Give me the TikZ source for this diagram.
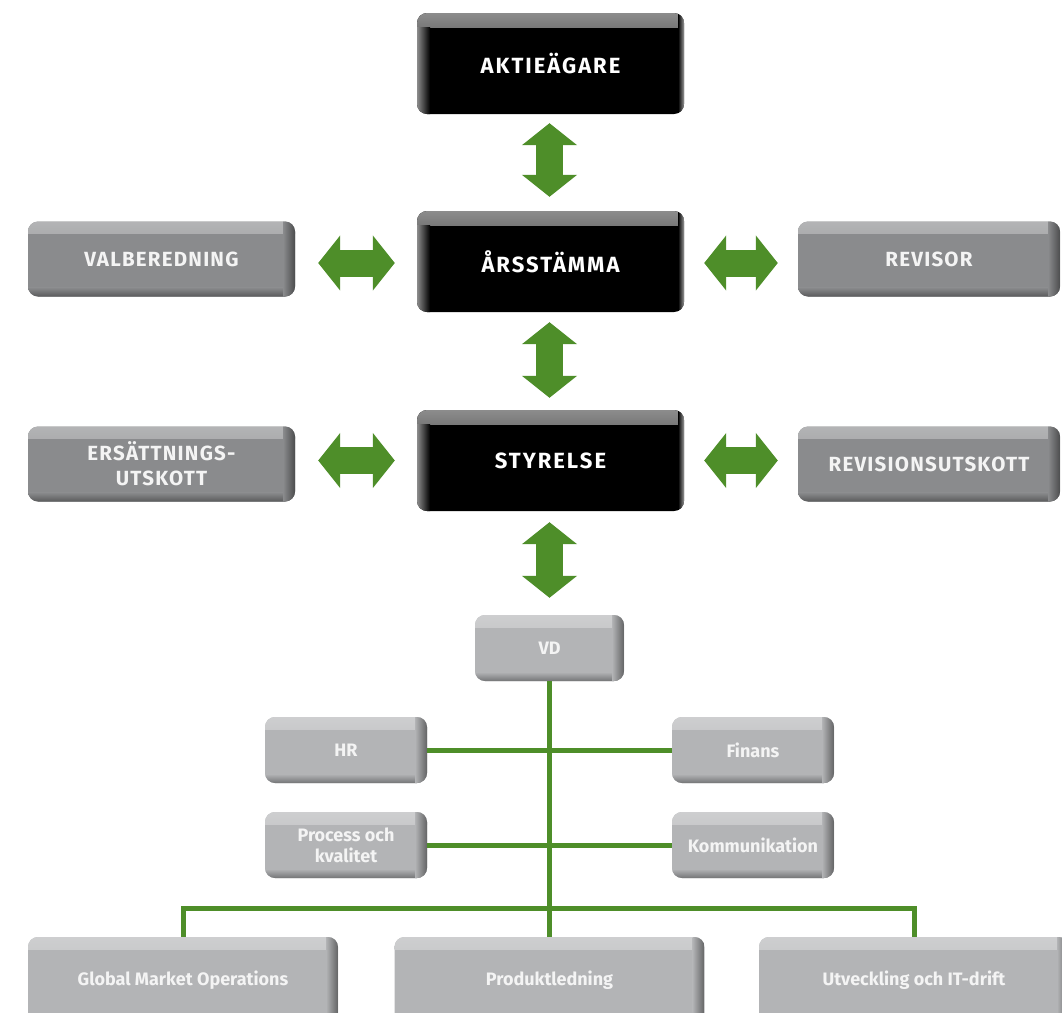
\documentclass[tikz,border=0pt]{standalone}
\usepackage{fontspec}
\setmainfont{Fira Sans}
\newfontfamily\capfont{Fira Sans}[LetterSpace=6]
\newfontfamily\bigcapfont{Fira Sans}[LetterSpace=9]
\usetikzlibrary{arrows.meta}
\definecolor{grn}{HTML}{4E8E29}
\definecolor{dgray}{HTML}{8A8B8D}
\definecolor{lgray}{HTML}{B3B4B6}
\definecolor{txtw}{HTML}{F4F4F4}
\tikzset{
  box/.style={rounded corners=10pt, inner sep=0pt, align=center},
  blackbox/.style={box, minimum width=267pt, minimum height=101pt, fill=black, text=white,
    font=\bigcapfont\bfseries\fontsize{22}{26}\selectfont,
    path picture={
      \shade[sharp corners, top color=black!45!white, bottom color=black]
        (path picture bounding box.north west) rectangle ([yshift=-14pt]path picture bounding box.north east);
      \shade[sharp corners, left color=black!45!white, right color=black]
        ([yshift=-14pt]path picture bounding box.north west) rectangle ([xshift=13pt]path picture bounding box.south west);
      \shade[sharp corners, left color=black, right color=black!40!white]
        ([xshift=-6pt]path picture bounding box.north east) rectangle (path picture bounding box.south east);
    }},
  graybox/.style={box, fill=#1, text=txtw,
    path picture={
      \shade[sharp corners, top color=#1!65!white, bottom color=#1]
        (path picture bounding box.north west) rectangle ([yshift=-12pt]path picture bounding box.north east);
      \shade[sharp corners, top color=#1, bottom color=#1!65!black]
        ([yshift=9pt]path picture bounding box.south west) rectangle (path picture bounding box.south east);
      \shade[sharp corners, left color=#1, right color=#1!55!black]
        ([xshift=-12pt]path picture bounding box.north east) rectangle (path picture bounding box.south east);
    }},
  upbox/.style={graybox=dgray, minimum width=267pt, minimum height=75pt,
    font=\capfont\bfseries\fontsize{20.5}{25}\selectfont},
  midbox/.style={graybox=lgray, minimum width=162pt, minimum height=66pt,
    font=\bfseries\fontsize{18}{21}\selectfont},
  lowbox/.style={graybox=lgray, minimum width=310pt, minimum height=86pt,
    font=\bfseries\fontsize{18}{21}\selectfont},
  dblarrow/.style={draw=grn, line width=27pt,
    {Triangle[width=54pt,length=22pt]}-{Triangle[width=54pt,length=22pt]}},
  gline/.style={draw=grn, line width=5pt}
}
\begin{document}
\begin{tikzpicture}[x=1pt,y=-1pt]
\useasboundingbox (0,0) rectangle (1062,1012);
\clip (0,0) rectangle (1062,1012);
\fill[white] (0,0) rectangle (1062,1012);

\node[blackbox] (akt) at (550.5,63.5) {AKTIEÄGARE};
\node[blackbox] (ars) at (550.5,261.5) {ÅRSSTÄMMA};
\node[blackbox] (sty) at (550.5,460.5) {STYRELSE};

\node[upbox] (val) at (161.5,259) {VALBEREDNING};
\node[upbox, minimum width=262pt] (rev) at (929,259) {REVISOR};
\node[upbox] (ers) at (161.5,464) {ERSÄTTNINGS-\\UTSKOTT};
\node[upbox, minimum width=262pt] (ru) at (929,464) {REVISIONSUTSKOTT};

\node[midbox, minimum width=149pt] (vd) at (549.5,648) {VD};
\node[midbox] (hr) at (346,750) {HR};
\node[midbox] (fin) at (753,750) {Finans};
\node[midbox] (proc) at (346,845) {Process och\\kvalitet};
\node[midbox] (kom) at (753,845) {Kommunikation};

\node[lowbox] (gmo) at (183,980) {Global Market Operations};
\node[lowbox] (prod) at (549.5,980) {Produktledning};
\node[lowbox] (utv) at (914,980) {Utveckling och IT-drift};

% big double arrows
\draw[dblarrow, shorten <=9pt, shorten >=14pt] ([xshift=-1pt]akt.south) -- ([xshift=-1pt]ars.north);
\draw[dblarrow, shorten <=10pt, shorten >=12pt] ([xshift=-1pt]ars.south) -- ([xshift=-1pt]sty.north);
\draw[dblarrow, shorten <=11pt, shorten >=17pt] (sty.south -| vd.north) -- (vd.north);
\draw[dblarrow, shorten <=23pt, shorten >=22pt] ([yshift=-1.5pt]ars.west -| val.east) -- ([yshift=-1.5pt]ars.west);
\draw[dblarrow, shorten <=20pt, shorten >=20pt] ([yshift=-1.5pt]ars.east) -- ([yshift=-1.5pt]ars.east -| rev.west);
\draw[dblarrow, shorten <=23pt, shorten >=22pt] (sty.west -| ers.east) -- (sty.west);
\draw[dblarrow, shorten <=20pt, shorten >=20pt] (sty.east) -- (sty.east -| ru.west);

% org lines
\coordinate (bus) at (549.5,908);
\draw[gline] (vd.south) -- (prod.north);
\draw[gline] (hr.east) -- (fin.west);
\draw[gline] (proc.east) -- (kom.west);
\draw[gline, line join=miter] (gmo.north) |- (bus) -| (utv.north);
\end{tikzpicture}
\end{document}
